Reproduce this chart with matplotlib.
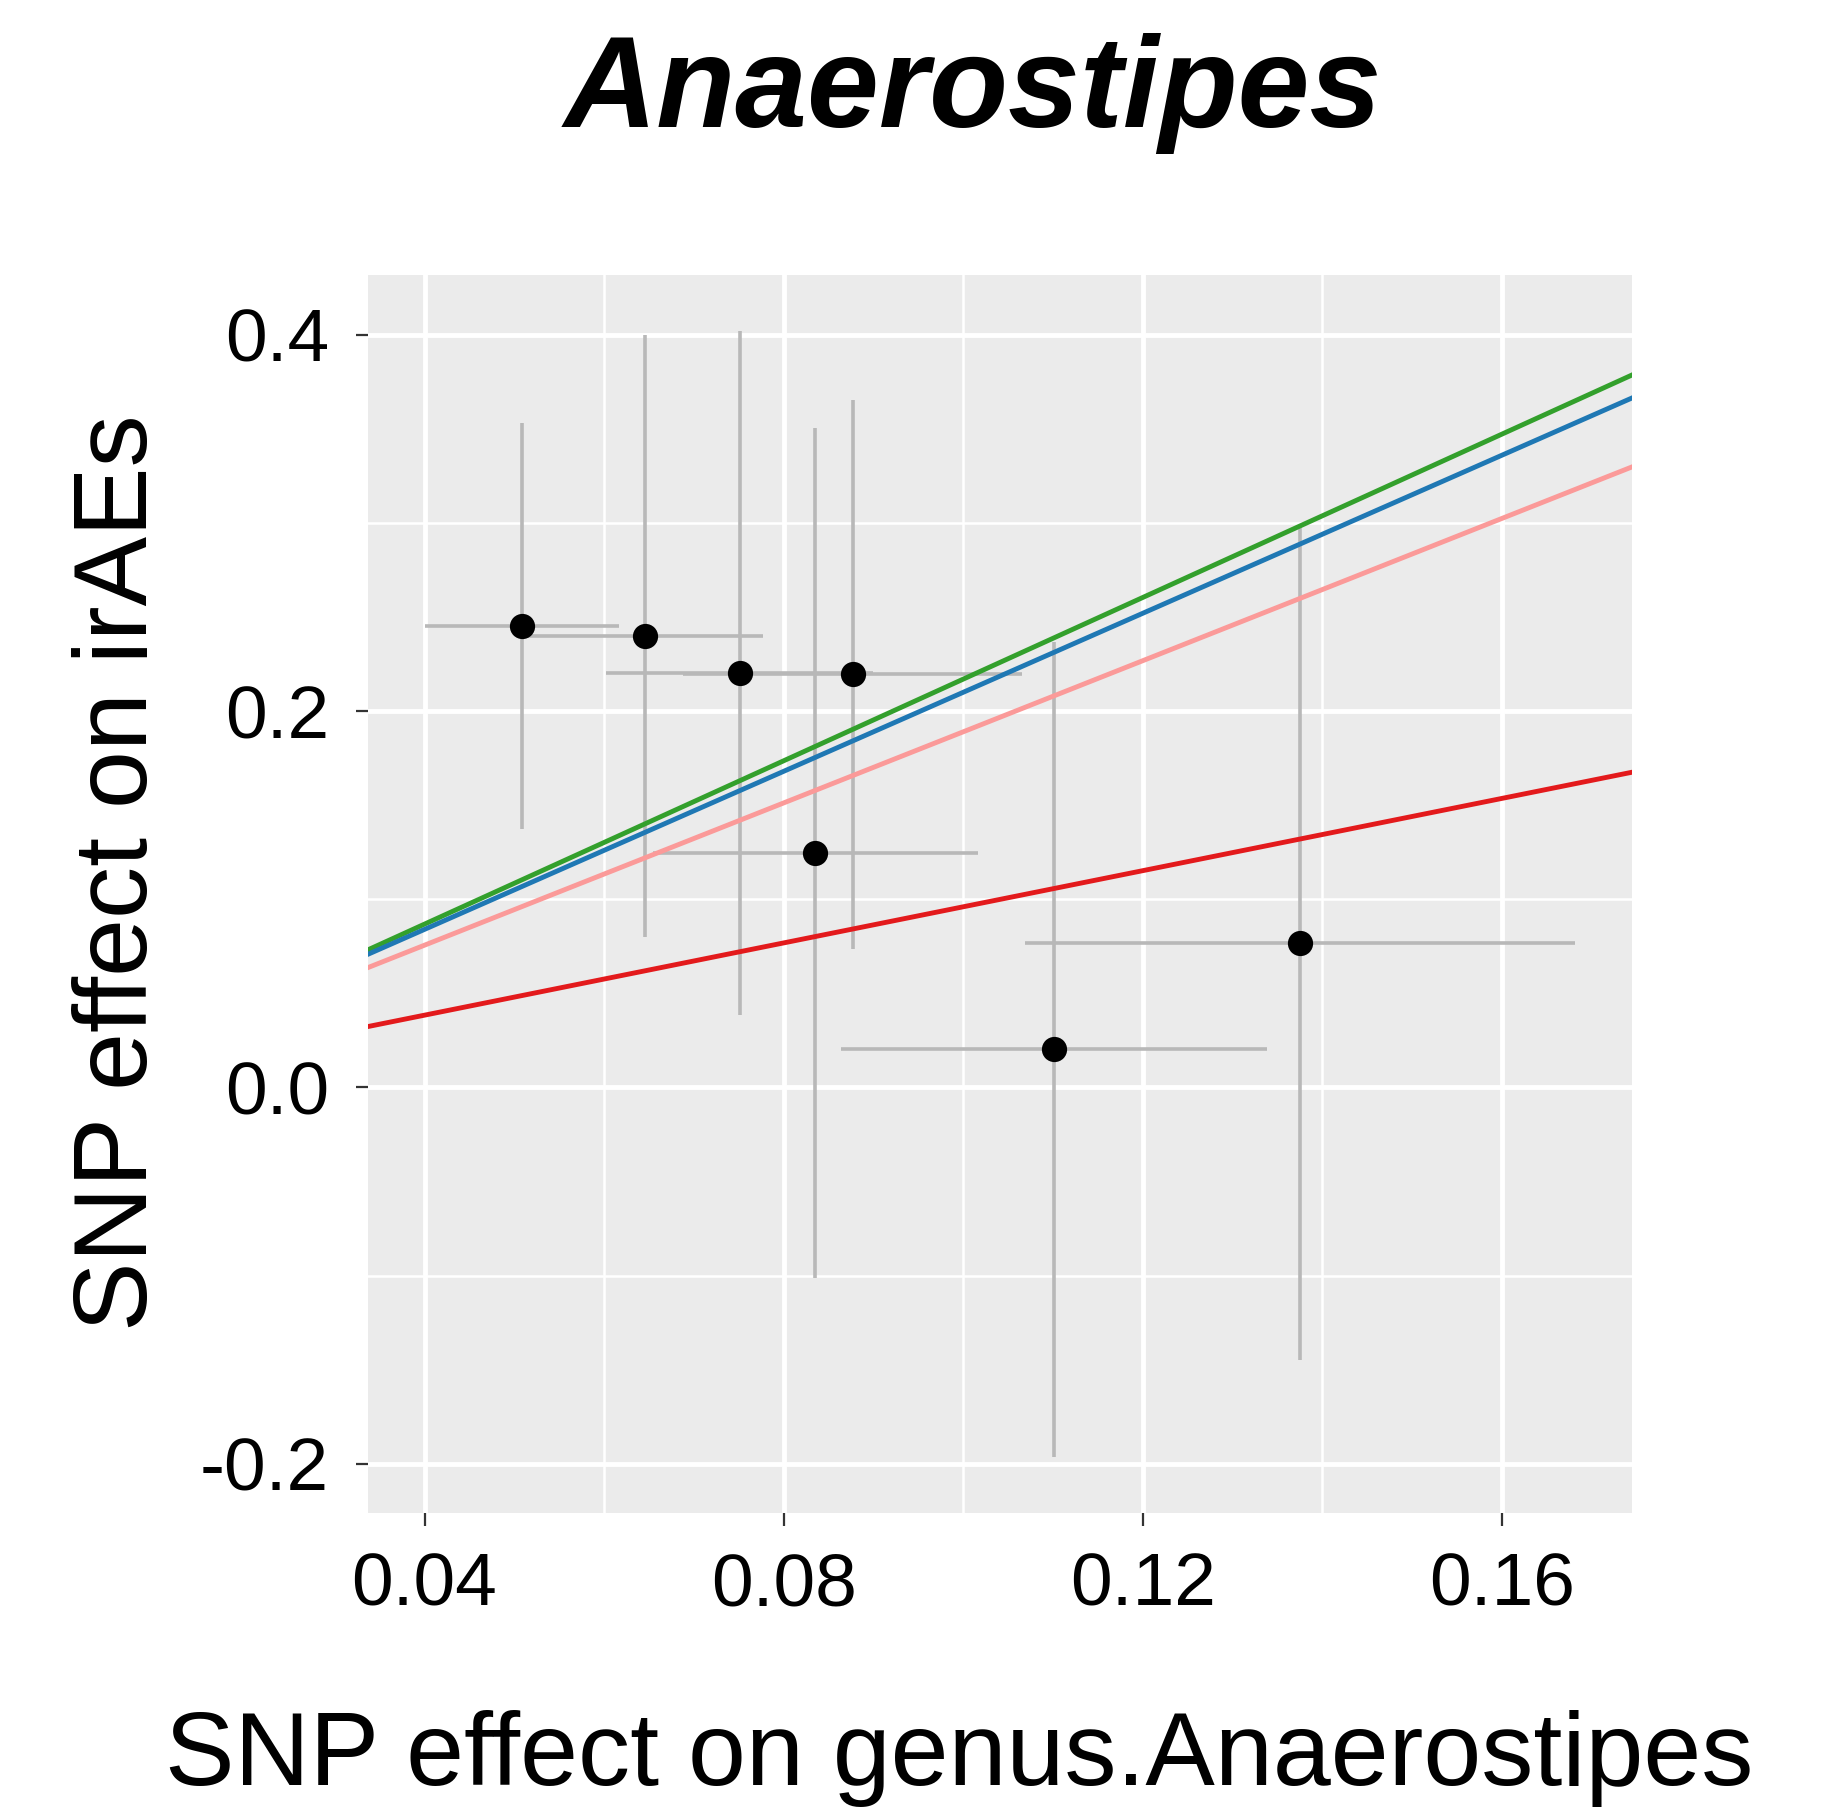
import matplotlib.pyplot as plt
import numpy as np

plt.rcParams['font.family'] = ['Liberation Sans', 'DejaVu Sans']

# SNP effects on exposure (x) and outcome (y), with error-bar half widths
bx = np.array([0.0509, 0.0645, 0.0751, 0.0877, 0.0835, 0.1101, 0.1375])
by = np.array([0.2454, 0.2398, 0.2202, 0.2196, 0.1247, 0.0202, 0.0769])
bx_err = np.array([0.0108, 0.0132, 0.0149, 0.0189, 0.0181, 0.0237, 0.0306])
by_err = np.array([0.1079, 0.1600, 0.1817, 0.1460, 0.2260, 0.2165, 0.2220])

# MR estimate lines through the origin
slopes = [2.17, 2.10, 1.89, 0.96]
line_colors = ["#33a02c", "#1f78b4", "#fb9a99", "#e31a1c"]

x_ticks = [0.04, 0.08, 0.12, 0.16]
y_ticks = [-0.2, 0.0, 0.2, 0.4]

fig = plt.figure(figsize=(18.32, 18.18), dpi=100)
ax = fig.add_axes([368 / 1832, 1 - 1513 / 1818, 1264 / 1832, 1238 / 1818])
ax.set_facecolor("#EBEBEB")

for s in ax.spines.values():
    s.set_visible(False)

# grid (ggplot style)
ax.set_axisbelow(True)
ax.set_xticks(x_ticks)
ax.set_yticks(y_ticks)
ax.set_xticks([0.06, 0.10, 0.14], minor=True)
ax.set_yticks([-0.1, 0.1, 0.3], minor=True)
ax.grid(which="major", color="white", linewidth=3.5)
ax.grid(which="minor", color="white", linewidth=1.8)
ax.tick_params(which="minor", length=0)
ax.tick_params(which="major", length=9, width=1.6, color="#333333",
               labelsize=54, labelcolor="black", pad=19)
ax.set_xticklabels(["0.04", "0.08", "0.12", "0.16"])
ax.set_yticklabels(["-0.2", "0.0", "0.2", "0.4"])

# error bars then points
ax.errorbar(bx, by, yerr=by_err, fmt="none", ecolor="#B8B8B8",
            elinewidth=2.6, capsize=0, zorder=2)
ax.errorbar(bx, by, xerr=bx_err, fmt="none", ecolor="#B8B8B8",
            elinewidth=2.6, capsize=0, zorder=2)
ax.scatter(bx, by, s=330, color="black", zorder=3, linewidths=0)

for k, c in zip(slopes, line_colors):
    ax.axline((0, 0), slope=k, color=c, linewidth=3.5, zorder=4)

# limits with 5% expansion like ggplot
xlo, xhi = (bx - bx_err).min(), (bx + bx_err).max()
ylo, yhi = (by - by_err).min(), (by + by_err).max()
ax.set_xlim(xlo - 0.05 * (xhi - xlo), xhi + 0.05 * (xhi - xlo))
ax.set_ylim(ylo - 0.05 * (yhi - ylo), yhi + 0.05 * (yhi - ylo))

ax.set_xlabel("SNP effect on genus.Anaerostipes", fontsize=75, va="baseline")
ax.xaxis.set_label_coords(0.4676, -0.2197)
ax.set_ylabel("SNP effect on irAEs", fontsize=75, va="baseline")
ax.yaxis.set_label_coords(-0.1748, 0.517)

fig.text(973 / 1832, 1 - 127 / 1818, "Anaerostipes", fontsize=93,
         fontweight="bold", fontstyle="italic", ha="center", va="baseline")

fig.savefig("out.png", dpi=100)
